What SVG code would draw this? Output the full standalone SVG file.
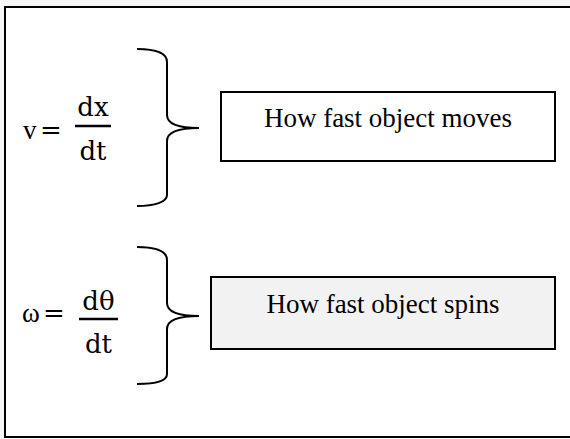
<svg xmlns="http://www.w3.org/2000/svg" width="570" height="439" viewBox="0 0 570 439">
<style>
.brace{fill:none;stroke:#000;stroke-width:2}
.box{stroke:#000;stroke-width:2}
.lbl{font-family:"Liberation Serif",serif;font-size:27px;fill:#000}
.math{font-family:"DejaVu Serif",serif;font-size:26px;fill:#000}
.bar{stroke:#000;stroke-width:2.5}
</style>
<rect x="0" y="0" width="570" height="439" fill="#f7f7f7"/>
<rect x="5" y="7" width="570" height="430" fill="#fff" stroke="#000" stroke-width="2"/>
<g id="eq1">
<text class="lbl" x="23" y="139" font-size="28">v</text>
<text class="math" x="40" y="139">=</text>
<line class="bar" x1="75" y1="126" x2="111" y2="126"/>
<text class="math" x="93" y="116" text-anchor="middle">dx</text>
<text class="math" x="93" y="160" text-anchor="middle">dt</text>
</g>
<g id="eq2">
<text class="lbl" x="22" y="322" font-size="28">ω</text>
<text class="math" x="43" y="322">=</text>
<line class="bar" x1="79" y1="319" x2="118" y2="319"/>
<text class="math" x="98.5" y="310" text-anchor="middle">dθ</text>
<text class="math" x="98.5" y="353" text-anchor="middle">dt</text>
</g>
<g id="connectors">
<path class="brace" d="M137,49 C155,49 167,53 167,62 L167,115 C167,124 178,128 199,128 C178,128 167,132 167,141 L167,195 C167,202 155,206 137,206"/>
<path class="brace" d="M137,247 C155,247 167,251 167,260 L167,303 C167,312 178,316 199,316 C178,316 167,320 167,329 L167,374 C167,381 155,384 137,384"/>
</g>
<g id="box1">
<rect class="box" x="221" y="92" width="334" height="69" fill="#fff"/>
<text class="lbl" x="388" y="127" text-anchor="middle">How fast object moves</text>
</g>
<g id="box2">
<rect class="box" x="211" y="277" width="344" height="72" fill="#f2f2f2"/>
<text class="lbl" x="383" y="313" text-anchor="middle">How fast object spins</text>
</g>
</svg>
